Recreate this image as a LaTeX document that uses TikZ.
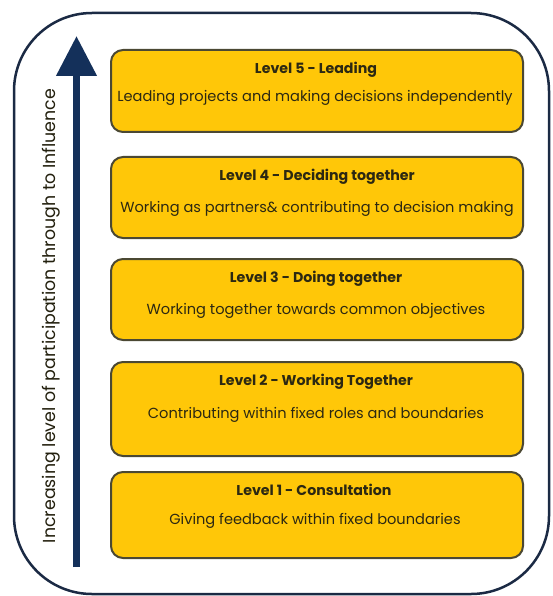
\documentclass[tikz,border=0pt]{standalone}
\usepackage{fontspec}
\setmainfont{Poppins}
\usetikzlibrary{arrows.meta}
\definecolor{gold}{HTML}{FFC708}
\definecolor{boxline}{HTML}{4B4833}
\definecolor{ink}{HTML}{2C2812}
\definecolor{navy}{HTML}{14305A}
\definecolor{frame}{HTML}{1B2A44}
\tikzset{
  lvlbox/.style={draw=boxline, line width=2pt, fill=gold, rounded corners=12pt,
    minimum width=412pt, inner sep=0pt},
  ttl/.style={text=ink, font=\fontsize{14.2}{16}\selectfont\bfseries, inner sep=0pt},
  sub/.style={text=ink, font=\fontsize{14.6}{17}\selectfont, inner sep=0pt},
  side/.style={text=ink!80!black, font=\fontsize{17.4}{19}\selectfont, inner sep=0pt, rotate=90}
}
\begin{document}
\begin{tikzpicture}[x=1pt,y=-1pt]
\useasboundingbox (0,0) rectangle (552,596);
\fill[white] (0,0) rectangle (552,596);
\draw[frame, line width=2.5pt, rounded corners=78pt] (14,13) rectangle (549,594);
% arrow
\coordinate (abot) at (76.5,567);
\coordinate (atop) at (76.5,36);
\draw[navy, line width=7.5pt, -{Triangle[width=39pt,length=40pt]}] (abot) -- (atop);
\node[side] (lab) at (51,316) {Increasing level of participation through to Influence};
% boxes
\node[lvlbox, minimum height=82pt] (b5) at (317,91) {};
\node[ttl] (t5) at (316,70) {Level 5 - Leading};
\node[sub] (s5) at (315,98) {Leading projects and making decisions independently};
\node[lvlbox, minimum height=81pt] (b4) at (317,197.5) {};
\node[ttl] (t4) at (317,177) {Level 4 - Deciding together};
\node[sub] (s4) at (317,209) {Working as partners\& contributing to decision making};
\node[lvlbox, minimum height=81pt] (b3) at (317,299.5) {};
\node[ttl] (t3) at (316,279) {Level 3 - Doing together};
\node[sub] (s3) at (316,311) {Working together towards common objectives};
\node[lvlbox, minimum height=94pt] (b2) at (317,409) {};
\node[ttl] (t2) at (316,382) {Level 2 - Working Together};
\node[sub] (s2) at (316,415) {Contributing within fixed roles and boundaries};
\node[lvlbox, minimum height=86pt] (b1) at (317,515) {};
\node[ttl] (t1) at (314,490) {Level 1 - Consultation};
\node[sub] (s1) at (315,521) {Giving feedback within fixed boundaries};
\end{tikzpicture}
\end{document}
